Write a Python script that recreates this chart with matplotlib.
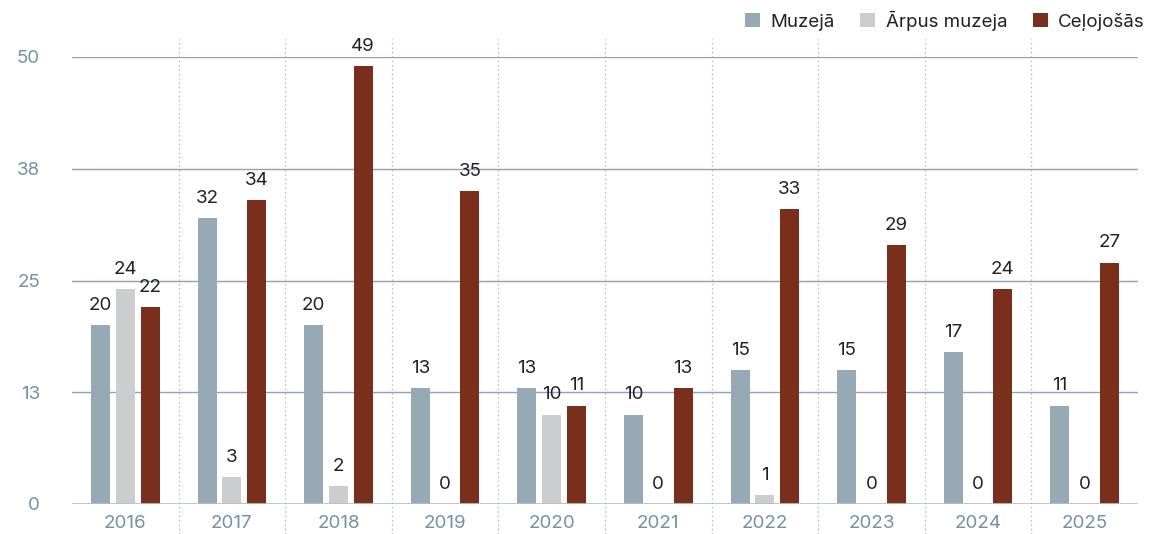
import matplotlib
matplotlib.use("Agg")
import matplotlib.pyplot as plt
import numpy as np
from matplotlib.patches import Patch
from matplotlib.lines import Line2D

years = ["2016", "2017", "2018", "2019", "2020", "2021", "2022", "2023", "2024", "2025"]
series_names = ["Muzejā", "Ārpus muzeja", "Ceļojošās"]
muzeja = [20, 32, 20, 13, 13, 10, 15, 15, 17, 11]
arpus = [24, 3, 2, 0, 10, 0, 1, 0, 0, 0]
celojosas = [22, 34, 49, 35, 11, 13, 33, 29, 24, 27]
colors = ["#96a9b5", "#cccdcf", "#7a2f1c"]
y_ticks = [0, 12.5, 25, 37.5, 50]
y_tick_labels = ["0", "13", "25", "38", "50"]

plt.rcParams['font.family'] = ['Inter', 'DejaVu Sans']

W, H = 1157, 534
fig = plt.figure(figsize=(W / 100, H / 100), dpi=100)
ax = fig.add_axes([72 / W, (H - 504) / H, (1138 - 72) / W, (504 - 57) / H])

x = np.arange(len(years))
bw = 0.178
off = 0.232
tick_color = "#7590a3"
fs = 13.5
for i, (vals, c) in enumerate(zip([muzeja, arpus, celojosas], colors)):
    xs = x + (i - 1) * off
    ax.bar(xs, vals, width=bw, color=c, zorder=3)
    for xi, v in zip(xs, vals):
        ax.text(xi, v + 1.25, str(v), ha="center", va="bottom", fontsize=fs,
                color="#222222", zorder=4, clip_on=False)

ax.set_xlim(-0.5, len(years) - 0.5)
ax.set_ylim(0, 50)
ax.set_yticks(y_ticks)
ax.set_yticklabels(y_tick_labels)
ax.set_xticks(x)
ax.set_xticklabels(years)
ax.tick_params(axis="both", length=0, labelsize=fs, colors=tick_color)
ax.tick_params(axis="y", pad=23)
ax.tick_params(axis="x", pad=8)
for s in ax.spines.values():
    s.set_visible(False)

for yt in y_ticks[1:]:
    ax.axhline(yt, color="#8fa3b0", lw=1.0, zorder=1)
ax.axhline(0, color="#b3c2cb", lw=2.0, zorder=5)

# dotted group separators extending beyond axes
for b in np.arange(0.5, len(years) - 1, 1.0):
    ax.add_line(Line2D([b, b], [-3.4, 52.0], color="#9fb2c2", lw=0.9,
                       linestyle=(0, (1, 2.5)), zorder=2, clip_on=False))

handles = [Patch(facecolor=c, edgecolor="none") for c in colors]
leg = fig.legend(handles, series_names, loc="upper right", bbox_to_anchor=(1152 / W, 1 - 3 / H),
                 ncol=3, frameon=False, fontsize=fs, handlelength=0.8, handleheight=0.8,
                 handletextpad=0.55, columnspacing=1.35, borderaxespad=0)
for t in leg.get_texts():
    t.set_color("#222222")

fig.savefig("out.png", dpi=100)
